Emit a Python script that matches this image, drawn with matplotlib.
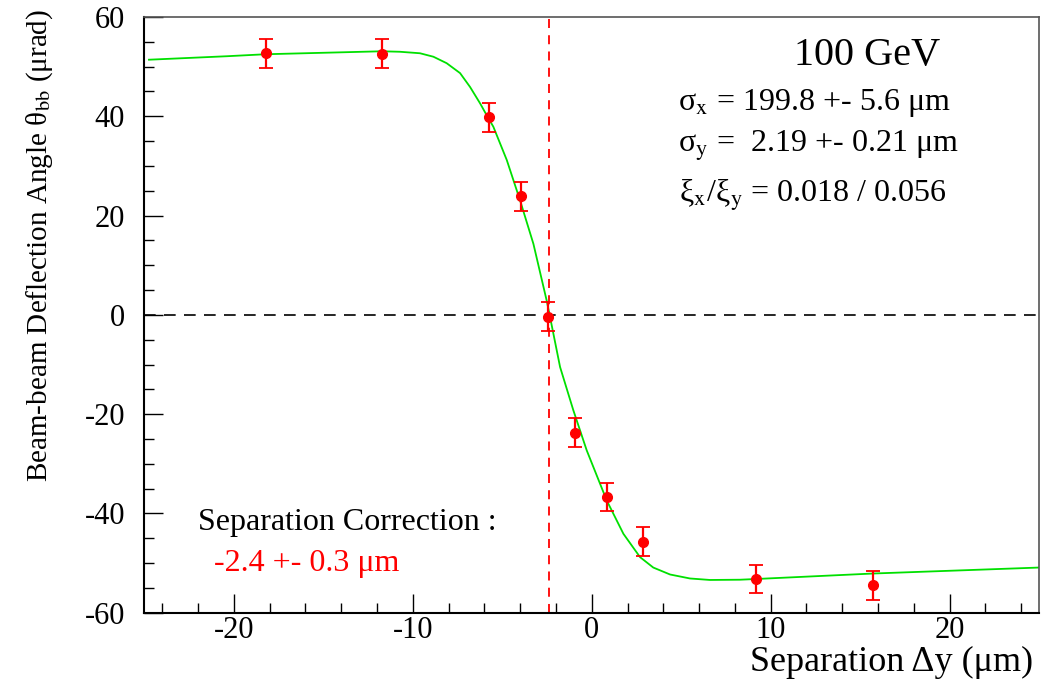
import numpy as np
import matplotlib
matplotlib.use("Agg")
import matplotlib.pyplot as plt

plt.rcParams['font.family'] = ['Liberation Serif', 'DejaVu Serif']
plt.rcParams['mathtext.fontset'] = 'stix'
plt.rcParams['axes.unicode_minus'] = False

# Maalepunkter: separasjon (um) og avbøyningsvinkel (urad) med feil
sep = [-18.2, -11.7, -5.74, -3.95, -2.42, -0.93, 0.84, 2.85, 9.18, 15.74]
vinkel = [52.7, 52.6, 39.8, 23.9, -0.4, -23.7, -36.7, -45.7, -53.2, -54.5]
feil = [2.9, 2.9, 2.9, 2.9, 2.9, 2.9, 2.9, 2.9, 2.9, 2.9]

# Tilpasset kurve (avlest)
kurve_x = [-24.75, -20.4, -18.24, -13.88, -11.72, -10.72, -9.6, -8.85, -8.11,
           -7.36, -6.8, -6.24, -5.87, -5.5, -4.75, -4.01, -3.26, -2.52, -2.33,
           -1.77, -1.03, -0.28, 0.84, 1.77, 2.7, 3.44, 4.38, 5.49, 6.61, 8.29,
           9.22, 15.74, 25.0]
kurve_y = [51.4, 52.1, 52.5, 52.9, 53.1, 53.0, 52.7, 52.0, 50.7,
           48.7, 45.9, 42.6, 40.2, 37.9, 31.2, 23.1, 14.3, 2.9, -0.44,
           -10.5, -19.2, -27.3, -37.4, -44.1, -48.8, -50.9, -52.3, -53.1, -53.4, -53.35,
           -53.2, -52.1, -50.9]

korreksjon = -2.4

fig = plt.figure(figsize=(10.44, 6.89), dpi=100)
ax = fig.add_axes([0.1384, 0.1107, 0.8568, 0.8646])

ax.axhline(0, color='black', linestyle=(0, (7, 5)), linewidth=1.2)
ax.axvline(korreksjon, color='red', linestyle=(0, (5, 4)), linewidth=1.3)
ax.plot(kurve_x, kurve_y, color='#00e000', linewidth=1.3)
ax.errorbar(sep, vinkel, yerr=feil, fmt='o', color='red', markersize=7,
            capsize=5, elinewidth=1.6, capthick=1.3)

ax.set_xlim(-25, 25)
ax.set_ylim(-60, 60)
ax.set_xticks([-20, -10, 0, 10, 20])
ax.set_xticks(np.arange(-24, 25, 2), minor=True)
ax.set_yticks([-60, -40, -20, 0, 20, 40, 60])
ax.set_yticks(np.arange(-60, 61, 5), minor=True)
ax.tick_params(which='both', direction='in', top=False, right=False,
               labelsize=22, colors='black')
ax.tick_params(axis='x', pad=2)
ax.tick_params(axis='y', pad=14)
ax.tick_params(which='major', length=14, width=1)
ax.tick_params(which='minor', length=7, width=1)

for s in ['top', 'right']:
    ax.spines[s].set_color('#555555')
    ax.spines[s].set_linewidth(1.2)
for s in ['left', 'bottom']:
    ax.spines[s].set_linewidth(1.5)

ax.set_ylabel('Beam-beam Deflection Angle θ$_{\\mathrm{bb}}$ (μrad)', fontsize=21)
ax.yaxis.set_label_coords(-0.1, 0.617)
fig.text(0.99, 0.015, 'Separation Δy (μm)', fontsize=26,
         ha='right', va='bottom')

ax.text(0.808, 0.935, '100 GeV', fontsize=29, ha='center', va='center',
        transform=ax.transAxes)
ax.text(0.596, 0.855, 'σ$_{\\mathrm{x}}$ = 199.8 +- 5.6 μm', fontsize=23,
        ha='left', va='center', transform=ax.transAxes)
ax.text(0.596, 0.783, 'σ$_{\\mathrm{y}}$ =  2.19 +- 0.21 μm', fontsize=23,
        ha='left', va='center', transform=ax.transAxes)
ax.text(0.598, 0.7, 'ξ$_{\\mathrm{x}}$/ξ$_{\\mathrm{y}}$ = 0.018 / 0.056', fontsize=23,
        ha='left', va='center', transform=ax.transAxes)

ax.text(0.06, 0.152, 'Separation Correction :', fontsize=23,
        ha='left', va='center', transform=ax.transAxes)
ax.text(0.078, 0.083, '-2.4 +- 0.3 μm', fontsize=23, color='red',
        ha='left', va='center', transform=ax.transAxes)

fig.savefig('out.png', dpi=100)
